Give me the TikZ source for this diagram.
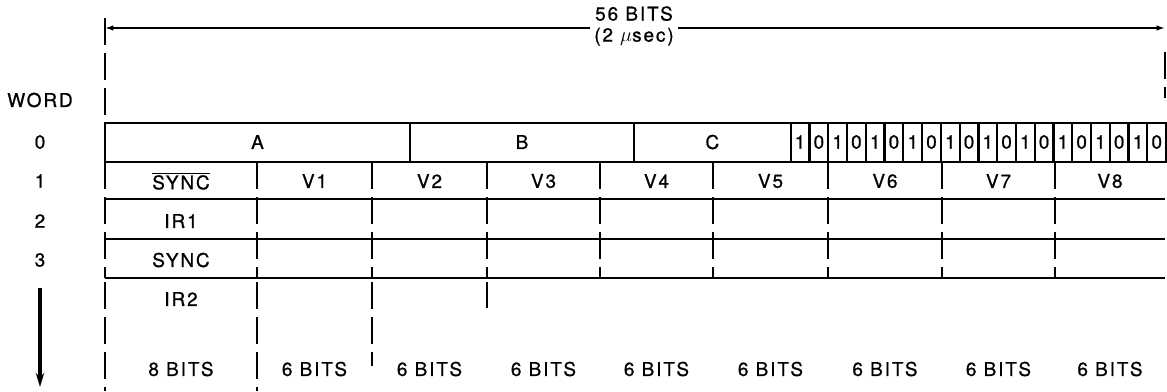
\documentclass[tikz,border=0pt]{standalone}
\usepackage{fontspec}
\setmainfont{TeX Gyre Heros}[LetterSpace=10, FakeBold=0.8]
\usepackage{tikz}
\usetikzlibrary{arrows.meta}

\begin{document}
\begin{tikzpicture}[x=0.025cm, y=-0.025cm,
  every node/.style={font=\fontsize{13.5}{15}\selectfont, inner sep=1pt},
  box/.style={draw, line width=1.6pt},
  rule/.style={line width=1.6pt},
  sep/.style={line width=1.7pt, dash pattern=on 19pt off 6pt}]
  \useasboundingbox (0,0) rectangle (1167,391);

  % span of one word
  \coordinate (lend) at (105,28);
  \coordinate (rend) at (1165,28);
  \draw[rule, {Latex[length=6pt,width=4pt]}-{Latex[length=6pt,width=4pt]}] (lend) -- (rend);
  \node (span) [fill=white, align=center, inner sep=3pt] at (634,26) {56 BITS\\[0pt](2 $\mu$sec)};
  \draw[sep] (105,18) -- (105,123);
  \draw[sep] (1165,52) -- (1165,98);

  % word numbers
  \node (word) at (40,100) {WORD};
  \foreach \w/\y in {0/142,1/181,2/221,3/260}
    \node (w\w) at (40,\y) {\w};
  \coordinate (down) at (40,288);
  \coordinate (downend) at (40,387);
  \draw[line width=2.2pt, -{Stealth[length=10pt,width=6pt]}] (down) -- (downend);

  % word 0
  \foreach \name/\xa/\xb in {A/105/410, B/410/634, C/634/790.7}{
    \draw[box] (\xa,123) rectangle (\xb,162);
    \node (\name) at ({(\xa+\xb)/2},142) {\name};}
  \foreach \i in {0,...,19}{
    \pgfmathtruncatemacro\bit{mod(\i+1,2)}
    \draw[box] ({790.7+18.77*\i},123) rectangle ({790.7+18.77*(\i+1)},162);
    \node (bit\i) at ({790.7+18.77*(\i+0.5)},142) {\bit};}

  % words 1 to 3
  \foreach \y in {199,239,278}
    \draw[rule] (105,\y) -- (1165,\y);
  \foreach \x in {105,257,372,487,600,713,828,942,1055}
    \draw[sep] (\x,162) -- (\x,278);
  \foreach \x/\yb in {105/391,257/391,372/366,487/308}
    \draw[sep] (\x,282) -- (\x,\yb);

  \node (nsync) at (181,181) {$\overline{\mbox{SYNC}}$};
  \node (ir1)   at (181,221) {IR1};
  \node (sync)  at (181,260) {SYNC};
  \node (ir2)   at (181,299) {IR2};
  \node (bits0) at (181,369) {8 BITS};
  \foreach \i/\xa/\xb in {1/257/372,2/372/487,3/487/600,4/600/713,
                          5/713/828,6/828/942,7/942/1055,8/1055/1165}{
    \node (v\i) at ({(\xa+\xb)/2},181) {V\i};
    \node (bits\i) at ({(\xa+\xb)/2},369) {6 BITS};}
\end{tikzpicture}
\end{document}
